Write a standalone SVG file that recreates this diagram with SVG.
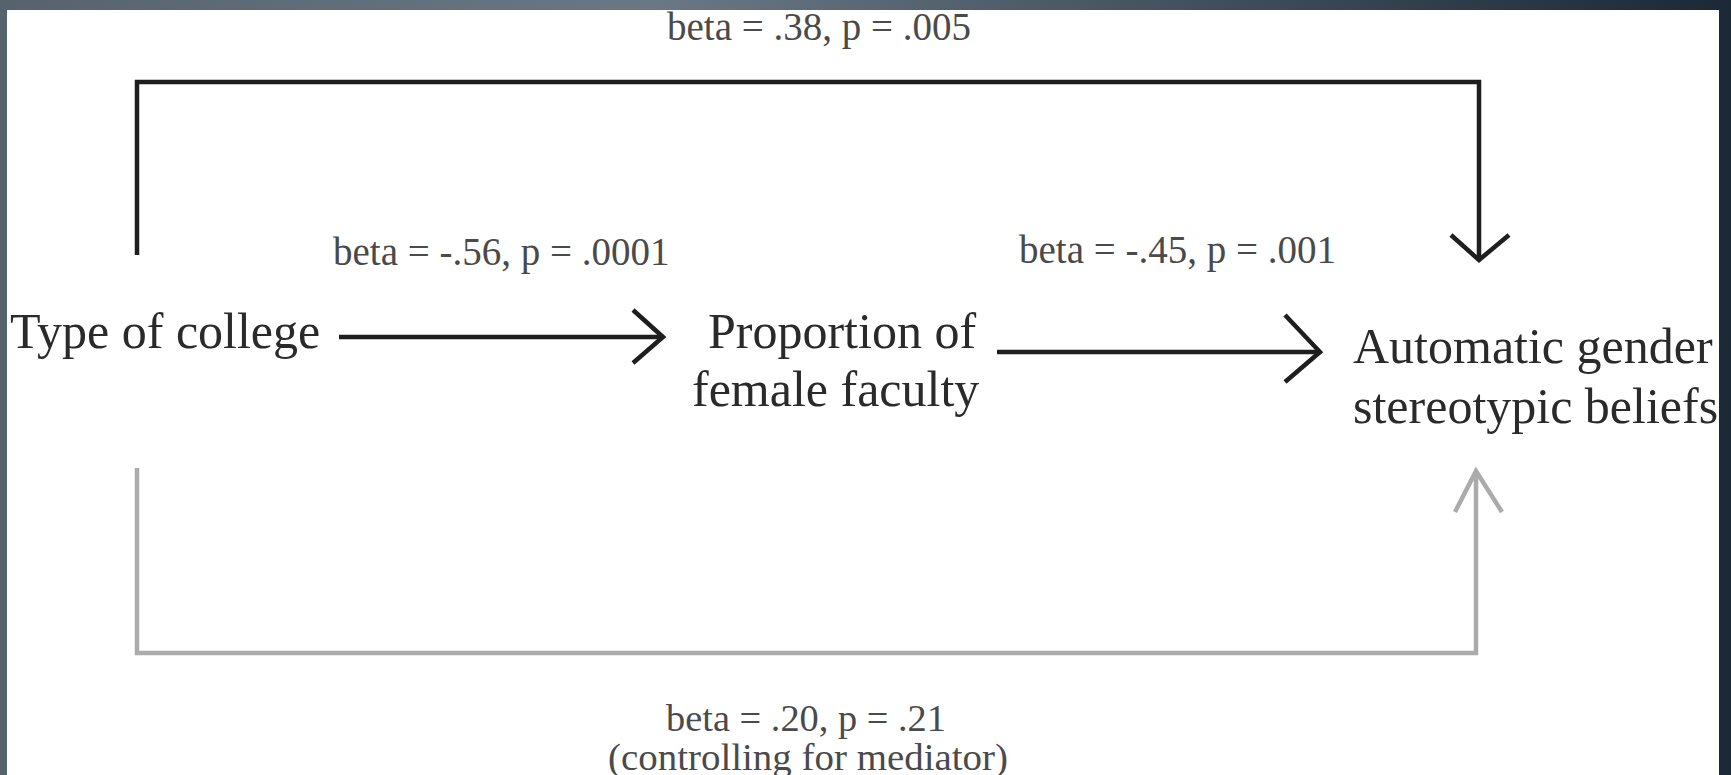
<svg xmlns="http://www.w3.org/2000/svg" width="1731" height="775" viewBox="0 0 1731 775">
  <defs>
    <linearGradient id="bg" x1="0" y1="0" x2="1" y2="0">
      <stop offset="0" stop-color="#56636f"/>
      <stop offset="0.38" stop-color="#6a7885"/>
      <stop offset="0.75" stop-color="#3a4857"/>
      <stop offset="1" stop-color="#1b2835"/>
    </linearGradient>
    <clipPath id="page"><rect x="7" y="10" width="1712" height="765"/></clipPath>
  </defs>
  <style>
    .lbl { font-family: "Liberation Serif", "Times New Roman", serif; font-size: 39px; fill: #4a4a4a; }
    .lbl2 { font-family: "Liberation Serif", "Times New Roman", serif; font-size: 37px; fill: #4a4a4a; }
    .node { font-family: "Liberation Serif", "Times New Roman", serif; font-size: 50px; fill: #2a2a2a; }
    .blk { fill: none; stroke: #1e1e1e; stroke-width: 4.5; stroke-linecap: butt; stroke-linejoin: miter; }
    .gry { fill: none; stroke: #ababab; stroke-width: 4.5; stroke-linejoin: miter; }
  </style>
  <rect x="0" y="0" width="1731" height="775" fill="url(#bg)"/>
  <rect x="7" y="10" width="1712" height="765" fill="#ffffff"/>
  <g clip-path="url(#page)">
    <g id="connectors">
      <path id="direct-path" class="blk" d="M137,255 V82 H1479 V258"/>
      <path class="blk" d="M1451,235 L1479,260 L1509,235"/>
      <path id="a-path" class="blk" d="M339,337 H661"/>
      <path class="blk" d="M633,310 L663,337 L633,363"/>
      <path id="b-path" class="blk" d="M997,352 H1318"/>
      <path class="blk" d="M1285,315 L1320,352 L1285,382"/>
      <path id="c-path" class="gry" d="M137,468 V653 H1476 V472"/>
      <path class="gry" d="M1455,512 L1476,471 L1502,512"/>
    </g>
    <g id="labels">
      <text class="lbl" x="667" y="40">beta = .38, p = .005</text>
      <text class="lbl" x="333" y="265">beta = -.56, p = .0001</text>
      <text class="lbl" x="1019" y="263">beta = -.45, p = .001</text>
      <text class="lbl2" x="806" y="731" text-anchor="middle" textLength="280" lengthAdjust="spacingAndGlyphs">beta = .20, p = .21</text>
      <text class="lbl2" x="808" y="770" text-anchor="middle" textLength="400" lengthAdjust="spacingAndGlyphs">(controlling for mediator)</text>
    </g>
    <g id="node-college">
      <text class="node" x="10" y="348">Type of college</text>
    </g>
    <g id="node-proportion">
      <text class="node" x="708" y="348">Proportion of</text>
      <text class="node" x="692" y="406">female faculty</text>
    </g>
    <g id="node-beliefs">
      <text class="node" x="1353" y="363">Automatic gender</text>
      <text class="node" x="1353" y="423">stereotypic beliefs</text>
    </g>
  </g>
</svg>
